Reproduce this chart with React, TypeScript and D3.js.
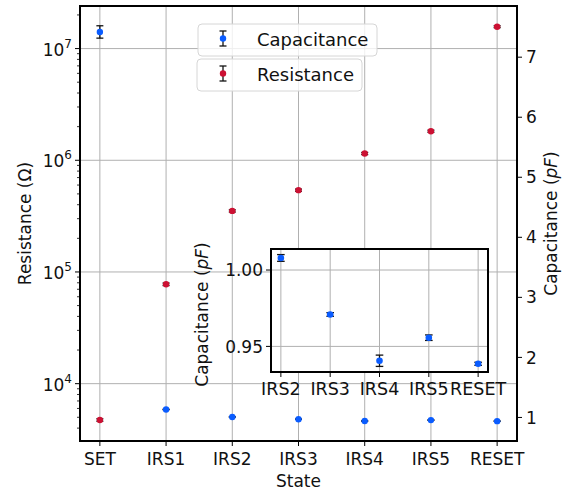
import React from 'react';
import * as d3 from 'd3';

const states = ['SET', 'IRS1', 'IRS2', 'IRS3', 'IRS4', 'IRS5', 'RESET'];
const resistance = [4.73e3, 7.76e4, 3.52e5, 5.4e5, 1.15e6, 1.82e6, 1.57e7];
const resistanceErr = [1.2e2, 2.0e3, 8e3, 1.2e4, 2.5e4, 4e4, 3e5];
const capacitance = [7.42, 1.133, 1.0079, 0.9709, 0.9406, 0.9557, 0.9386];
const capacitanceErr = [0.103, 0.004, 0.0022, 0.0012, 0.0037, 0.0018, 0.001];
const insetStates = ['IRS2', 'IRS3', 'IRS4', 'IRS5', 'RESET'];
const insetCap = [1.0079, 0.9709, 0.9406, 0.9557, 0.9386];
const insetCapErr = [0.0022, 0.0012, 0.0037, 0.0018, 0.001];
const capTicks = [1, 2, 3, 4, 5, 6, 7];
const resMajor = [1e4, 1e5, 1e6, 1e7];
const insetYTicks = [0.95, 1.0];

const BLUE = '#0a5cff';
const RED = '#cc1133';
const GRID = '#b0b0b0';
const FONT = 'DejaVu Sans, sans-serif';
const FS = 17;
const LFS = 18;

function padded(lo: number, hi: number): [number, number] {
  const s = hi - lo;
  return [lo - 0.05 * s, hi + 0.05 * s];
}

export default function App() {
  const W = 574, H = 495;
  const L = 80, R = 517, T = 6, B = 441;

  const x = d3.scaleLinear().domain([-0.3, states.length - 1 + 0.3]).range([L, R]);

  const logLo = d3.min(resistance.map((v, i) => Math.log10(v - resistanceErr[i]))) as number;
  const logHi = d3.max(resistance.map((v, i) => Math.log10(v + resistanceErr[i]))) as number;
  const [lLo, lHi] = padded(logLo, logHi);
  const yR = d3.scaleLog().domain([10 ** lLo, 10 ** lHi]).range([B, T]);

  const cLo = d3.min(capacitance.map((v, i) => v - capacitanceErr[i])) as number;
  const cHi = d3.max(capacitance.map((v, i) => v + capacitanceErr[i])) as number;
  const yC = d3.scaleLinear().domain(padded(cLo, cHi)).range([B, T]);

  const minor: number[] = [];
  for (let e = 3; e <= 7; e++) {
    for (let m = 2; m <= 9; m++) {
      const v = m * 10 ** e;
      if (v >= 10 ** lLo && v <= 10 ** lHi) minor.push(v);
    }
  }

  // inset
  const iL = 271, iR = 488, iT = 249, iB = 372;
  const xi = d3.scaleLinear().domain([-0.2, insetStates.length - 1 + 0.2]).range([iL, iR]);
  const iLo = d3.min(insetCap.map((v, i) => v - insetCapErr[i])) as number;
  const iHi = d3.max(insetCap.map((v, i) => v + insetCapErr[i])) as number;
  const yi = d3.scaleLinear().domain(padded(iLo, iHi)).range([iB, iT]);

  const errBar = (cx: number, y1: number, y2: number, key: string, cw = 3.5) => (
    <g key={key} stroke="#111" strokeWidth={1.3}>
      <line x1={cx} x2={cx} y1={y1} y2={y2} />
      <line x1={cx - cw} x2={cx + cw} y1={y1} y2={y1} />
      <line x1={cx - cw} x2={cx + cw} y1={y2} y2={y2} />
    </g>
  );

  return (
    <svg width={W} height={H} style={{ position: 'absolute', left: 0, top: 0, background: '#fff' }} fontFamily={FONT}>
      <rect x={0} y={0} width={W} height={H} fill="#fff" />
      {/* main grid */}
      <g stroke={GRID} strokeWidth={1}>
        {states.map((s, i) => (
          <line key={'gx' + s} x1={x(i)} x2={x(i)} y1={T} y2={B} />
        ))}
        {resMajor.map((v) => (
          <line key={'gy' + v} x1={L} x2={R} y1={yR(v)} y2={yR(v)} />
        ))}
      </g>

      {/* resistance points */}
      {resistance.map((v, i) => (
        <g key={'r' + i}>
          {errBar(x(i), yR(v + resistanceErr[i]), yR(v - resistanceErr[i]), 'er' + i)}
          <circle cx={x(i)} cy={yR(v)} r={3.2} fill={RED} />
        </g>
      ))}
      {/* capacitance points */}
      {capacitance.map((v, i) => (
        <g key={'c' + i}>
          {errBar(x(i), yC(v + capacitanceErr[i]), yC(v - capacitanceErr[i]), 'ec' + i)}
          <circle cx={x(i)} cy={yC(v)} r={3.2} fill={BLUE} />
        </g>
      ))}

      {/* legends */}
      <g>
        <rect x={198} y={24} width={179} height={32} rx={4} fill="#fff" fillOpacity={0.8} stroke="#d6d6d6" strokeWidth={1} />
        {errBar(223, 31, 46, 'lc', 3.5)}
        <circle cx={223} cy={38.5} r={3.2} fill={BLUE} />
        <text x={257} y={46} fontSize={LFS} fill="#111">Capacitance</text>
        <rect x={197} y={59} width={165} height={32} rx={4} fill="#fff" fillOpacity={0.8} stroke="#d6d6d6" strokeWidth={1} />
        {errBar(223, 66, 81, 'lr', 3.5)}
        <circle cx={223} cy={73.5} r={3.2} fill={RED} />
        <text x={257} y={81} fontSize={LFS} fill="#111">Resistance</text>
      </g>

      {/* inset */}
      <g>
        <rect x={iL} y={iT} width={iR - iL} height={iB - iT} fill="#fff" />
        <g stroke={GRID} strokeWidth={1}>
          {insetStates.map((s, i) => (
            <line key={'igx' + s} x1={xi(i)} x2={xi(i)} y1={iT} y2={iB} />
          ))}
          {insetYTicks.map((v) => (
            <line key={'igy' + v} x1={iL} x2={iR} y1={yi(v)} y2={yi(v)} />
          ))}
        </g>
        {insetCap.map((v, i) => (
          <g key={'ic' + i}>
            {errBar(xi(i), yi(v + insetCapErr[i]), yi(v - insetCapErr[i]), 'eic' + i, 3.8)}
            <circle cx={xi(i)} cy={yi(v)} r={3.3} fill={BLUE} />
          </g>
        ))}
        <rect x={iL} y={iT} width={iR - iL} height={iB - iT} fill="none" stroke="#000" strokeWidth={2} />
        {insetYTicks.map((v) => (
          <g key={'iyt' + v}>
            <line x1={iL - 5} x2={iL} y1={yi(v)} y2={yi(v)} stroke="#000" strokeWidth={1} />
            <text x={iL - 8} y={yi(v)} dy="0.36em" textAnchor="end" fontSize={FS} fill="#111">
              {d3.format('.2f')(v)}
            </text>
          </g>
        ))}
        {insetStates.map((s, i) => (
          <g key={'ixt' + s}>
            <line x1={xi(i)} x2={xi(i)} y1={iB} y2={iB + 5} stroke="#000" strokeWidth={1} />
            <text x={xi(i)} y={iB + 23} textAnchor="middle" fontSize={FS + 0.5} fill="#111">{s}</text>
          </g>
        ))}
        <text transform={`translate(${iL - 63},${(iT + iB) / 2 + 4}) rotate(-90)`} textAnchor="middle" fontSize={FS} fill="#111">
          Capacitance (<tspan fontStyle="italic">pF</tspan>)
        </text>
      </g>

      {/* main frame */}
      <rect x={L} y={T} width={R - L} height={B - T} fill="none" stroke="#000" strokeWidth={2} />

      {/* left axis */}
      {minor.map((v) => (
        <line key={'mn' + v} x1={L - 3} x2={L} y1={yR(v)} y2={yR(v)} stroke="#000" strokeWidth={0.8} />
      ))}
      {resMajor.map((v) => {
        const e = Math.round(Math.log10(v));
        return (
          <g key={'lt' + v}>
            <line x1={L - 5} x2={L} y1={yR(v)} y2={yR(v)} stroke="#000" strokeWidth={1} />
            <text x={L - 8} y={yR(v) + 7} textAnchor="end" fontSize={FS} fill="#111">
              10<tspan fontSize={12} dy={-8}>{e}</tspan>
            </text>
          </g>
        );
      })}
      <text transform={`translate(31,${(T + B) / 2}) rotate(-90)`} textAnchor="middle" fontSize={FS} fill="#111">
        Resistance (Ω)
      </text>

      {/* right axis */}
      {capTicks.map((v) => (
        <g key={'rt' + v}>
          <line x1={R} x2={R + 5} y1={yC(v)} y2={yC(v)} stroke="#000" strokeWidth={1} />
          <text x={R + 9} y={yC(v)} dy="0.36em" fontSize={FS} fill="#111">{v}</text>
        </g>
      ))}
      <text transform={`translate(557,${(T + B) / 2}) rotate(-90)`} textAnchor="middle" fontSize={FS} fill="#111">
        Capacitance (<tspan fontStyle="italic">pF</tspan>)
      </text>

      {/* bottom axis */}
      {states.map((s, i) => (
        <g key={'bt' + s}>
          <line x1={x(i)} x2={x(i)} y1={B} y2={B + 5} stroke="#000" strokeWidth={1} />
          <text x={x(i)} y={B + 24} textAnchor="middle" fontSize={FS} fill="#111">{s}</text>
        </g>
      ))}
      <text x={(L + R) / 2} y={487} textAnchor="middle" fontSize={FS} fill="#111">State</text>
    </svg>
  );
}
